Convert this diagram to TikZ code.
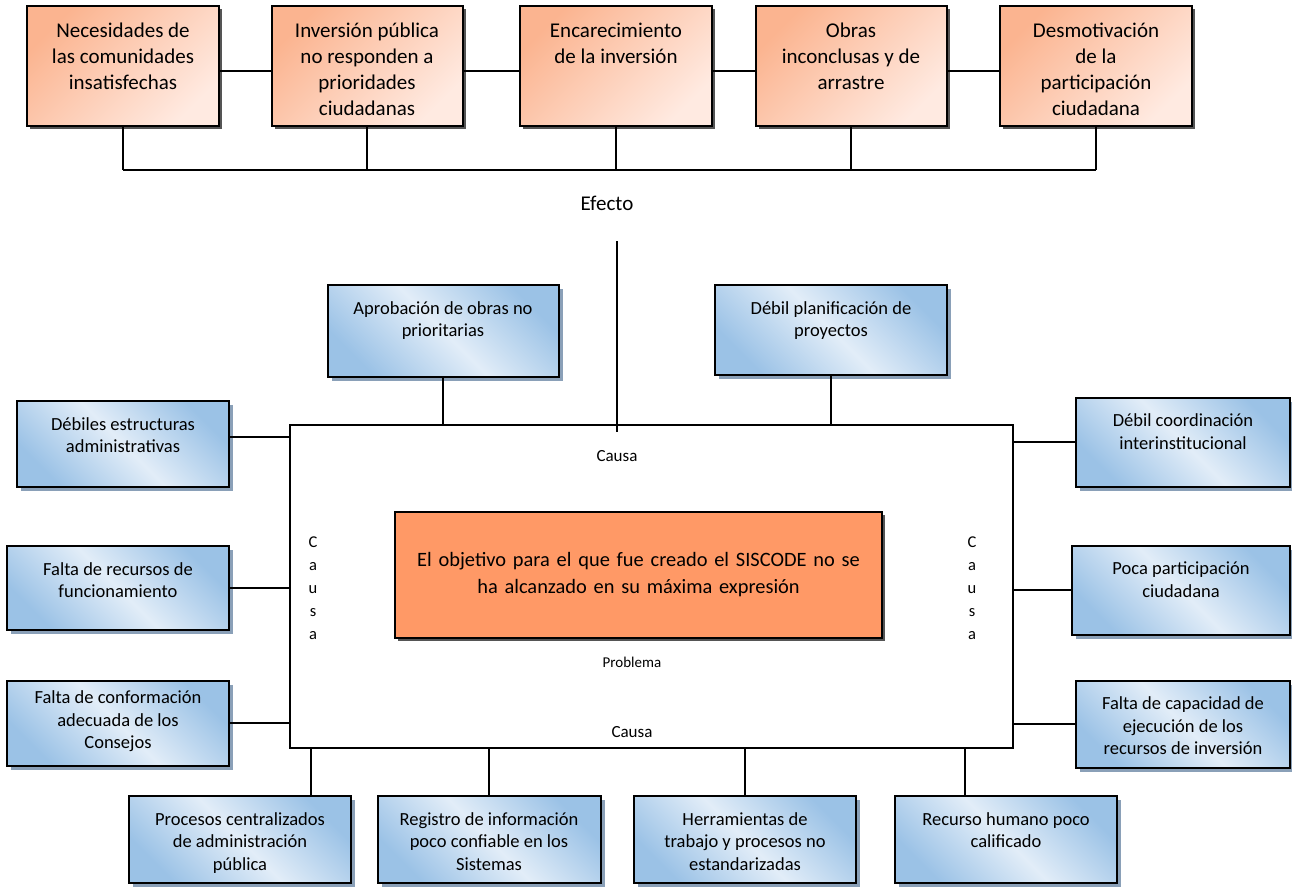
\documentclass[tikz,border=0pt]{standalone}
\usepackage{fontspec}
\setmainfont{Carlito}
\usetikzlibrary{shadows,calc}
\definecolor{blueD}{RGB}{155,194,230}
\definecolor{blueL}{RGB}{226,237,248}
\definecolor{orD}{RGB}{251,180,144}
\definecolor{orL}{RGB}{255,234,225}
\definecolor{core}{RGB}{255,153,102}
\definecolor{bshadow}{RGB}{138,160,184}
\definecolor{oshadow}{RGB}{85,85,85}
\newcommand{\otxt}[3]{\begin{minipage}[c][#2][t]{#1}\centering\fontsize{21}{26}\selectfont\rule{0pt}{31.5pt}#3\end{minipage}}
\newcommand{\btxt}[4][29pt]{\begin{minipage}[c][#3][t]{#2}\centering\fontsize{18.5}{22.5}\selectfont\rule{0pt}{#1}#4\end{minipage}}
\begin{document}
\begin{tikzpicture}[x=1pt,y=-1pt,
  conn/.style={line width=2pt,draw=black},
  obox/.style={draw=black,line width=2pt,inner sep=0pt,
    top color=orD,bottom color=orL,shading angle=45,
    drop shadow={shadow xshift=3pt,shadow yshift=-3pt,fill=oshadow,opacity=1}},
  bbox/.style={draw=black,line width=2pt,inner sep=0pt,
    top color=blueD,bottom color=blueD,middle color=blueL,shading angle=-45,
    drop shadow={shadow xshift=4pt,shadow yshift=-4pt,fill=bshadow,opacity=1}},
  corebox/.style={draw=black,line width=2pt,fill=core,inner sep=0pt,align=center,
    font=\fontsize{20.4}{27}\selectfont,
    drop shadow={shadow xshift=3pt,shadow yshift=-3pt,fill=oshadow,opacity=1}},
  lbl/.style={inner sep=0pt,align=center},
]
\useasboundingbox (0,0) rectangle (1292,886);
\fill[white] (0,0) rectangle (1292,886);

% effects (top row)
\node[obox,minimum width=192pt,minimum height=120pt] (e1) at (123,66) {\otxt{192pt}{120pt}{Necesidades de\\las comunidades\\insatisfechas}};
\node[obox,minimum width=191pt,minimum height=120pt] (e2) at (367,66) {\otxt{191pt}{120pt}{Inversión pública\\no responden a\\prioridades\\ciudadanas}};
\node[obox,minimum width=192pt,minimum height=120pt] (e3) at (616,66) {\otxt{192pt}{120pt}{Encarecimiento\\de la inversión}};
\node[obox,minimum width=191pt,minimum height=120pt] (e4) at (851,66) {\otxt{191pt}{120pt}{Obras\\inconclusas y de\\arrastre}};
\node[obox,minimum width=192pt,minimum height=120pt] (e5) at (1096,66) {\otxt{192pt}{120pt}{Desmotivación\\de la\\participación\\ciudadana}};

\foreach \a/\b in {e1/e2,e2/e3,e3/e4,e4/e5}
  \draw[conn] ([yshift=-5pt]\a.east) -- ([yshift=-5pt]\b.west);
\coordinate (bus) at (0,170);
\foreach \a in {e1,e2,e3,e4,e5}
  \draw[conn] (\a.south) -- (\a.south |- bus);
\draw[conn] (e1.south |- bus) -- (e5.south |- bus);

\node[lbl,font=\fontsize{21}{24}\selectfont] (efecto) at (607,203) {Efecto};
\coordinate (efl) at (617,241);

% main frame
\node[draw=black,line width=2pt,minimum width=723pt,minimum height=323pt,inner sep=0pt] (R) at (651.5,586.5) {};
\draw[conn] (efl) -- ($(efl |- R.north)+(0,8)$);

% central problem
\node[corebox,minimum width=487pt,minimum height=126pt,text width=487pt] (C) at (638.5,575) {El objetivo para el que fue creado el SISCODE no se\\ha alcanzado en su máxima expresión};

\node[lbl,font=\fontsize{17}{20}\selectfont] (causaT) at (617,456) {Causa};
\node[lbl,font=\fontsize{17}{20}\selectfont] (causaB) at (632,732) {Causa};
\node[lbl,font=\fontsize{15}{20}\selectfont] (problema) at (632,662) {Problema};
\node[lbl,font=\fontsize{16.5}{23}\selectfont] (causaL) at (313,588) {C\\a\\u\\s\\a};
\node[lbl,font=\fontsize{16.5}{23}\selectfont] (causaR) at (972,588) {C\\a\\u\\s\\a};

% causes top
\node[bbox,minimum width=231pt,minimum height=92pt] (t1) at (443,331) {\btxt{231pt}{92pt}{Aprobación de obras no\\prioritarias}};
\node[bbox,minimum width=232pt,minimum height=90pt] (t2) at (831,330) {\btxt{232pt}{90pt}{Débil planificación de\\proyectos}};
% causes left
\node[bbox,minimum width=212pt,minimum height=86pt] (l1) at (123,444) {\btxt{212pt}{86pt}{Débiles estructuras\\administrativas}};
\node[bbox,minimum width=222pt,minimum height=84pt] (l2) at (118,588) {\btxt{222pt}{84pt}{Falta de recursos de\\funcionamiento}};
\node[bbox,minimum width=222pt,minimum height=85pt] (l3) at (118,723) {\btxt[23pt]{222pt}{85pt}{Falta de conformación\\adecuada de los\\Consejos}};
% causes right
\node[bbox,minimum width=214pt,minimum height=89pt] (r1) at (1183,442) {\btxt{214pt}{89pt}{Débil coordinación\\interinstitucional}};
\node[bbox,minimum width=218pt,minimum height=89pt] (r2) at (1181,590) {\btxt{218pt}{89pt}{Poca participación\\ciudadana}};
\node[bbox,minimum width=214pt,minimum height=87pt] (r3) at (1183,724) {\btxt{214pt}{87pt}{Falta de capacidad de\\ejecución de los\\recursos de inversión}};
% causes bottom
\node[bbox,minimum width=222pt,minimum height=87pt] (p1) at (240,839.5) {\btxt{222pt}{87pt}{Procesos centralizados\\de administración\\pública}};
\node[bbox,minimum width=223pt,minimum height=87pt] (p2) at (489,839.5) {\btxt{223pt}{87pt}{Registro de información\\poco confiable en los\\Sistemas}};
\node[bbox,minimum width=222pt,minimum height=87pt] (p3) at (745,839.5) {\btxt{222pt}{87pt}{Herramientas de\\trabajo y procesos no\\estandarizadas}};
\node[bbox,minimum width=222pt,minimum height=87pt] (p4) at (1006,839.5) {\btxt{222pt}{87pt}{Recurso humano poco\\calificado}};

% connectors of causes
\draw[conn] (t1.south) -- (t1.south |- R.north);
\draw[conn] (t2.south) -- (t2.south |- R.north);
\coordinate (l1c) at ([yshift=7pt]l1.east);
\draw[conn] (l1c) -- (l1c -| R.west);
\draw[conn] (l2.east) -- (l2.east -| R.west);
\draw[conn] (l3.east) -- (l3.east -| R.west);
\draw[conn] (r1.west) -- (r1.west -| R.east);
\draw[conn] (r2.west) -- (r2.west -| R.east);
\draw[conn] (r3.west) -- (r3.west -| R.east);
\coordinate (p1c) at ([xshift=71pt]p1.north);
\draw[conn] (p1c) -- (p1c |- R.south);
\draw[conn] (p2.north) -- (p2.north |- R.south);
\draw[conn] (p3.north) -- (p3.north |- R.south);
\coordinate (p4c) at ([xshift=-41pt]p4.north);
\draw[conn] (p4c) -- (p4c |- R.south);
\end{tikzpicture}
\end{document}
